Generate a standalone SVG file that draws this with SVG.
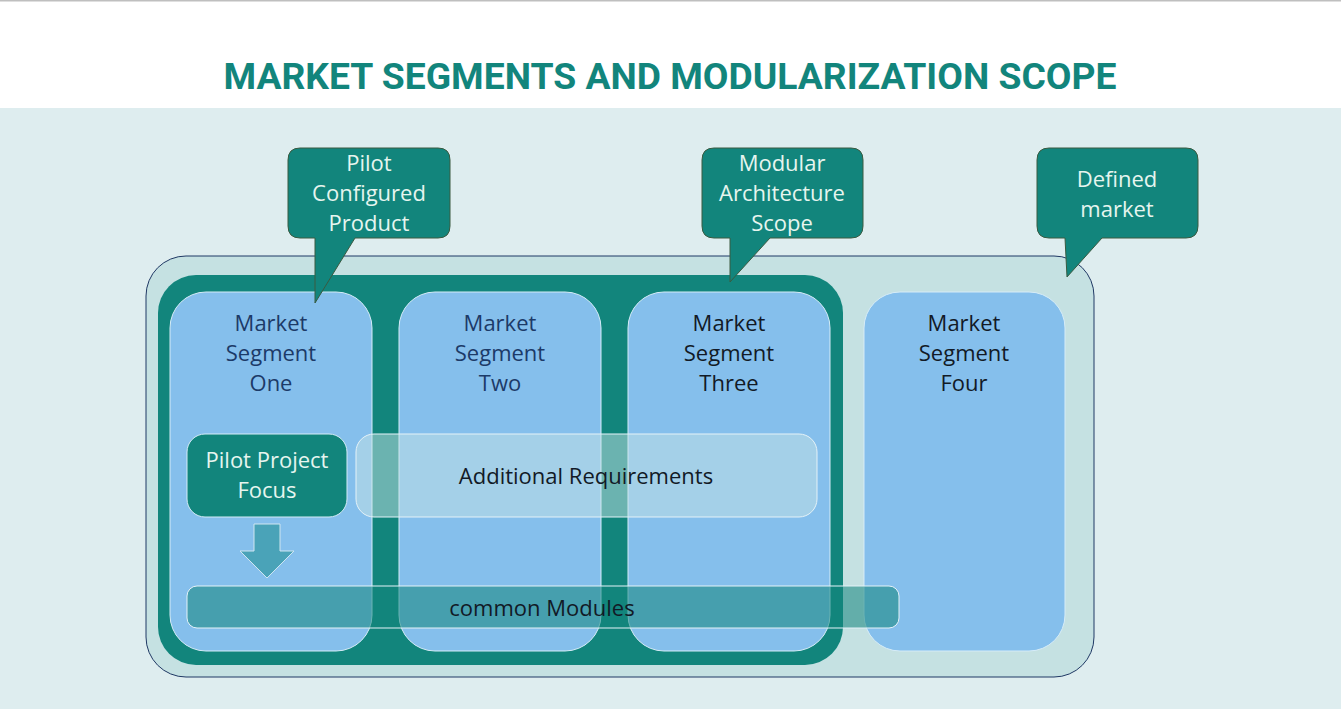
<svg xmlns="http://www.w3.org/2000/svg" width="1341" height="709" viewBox="0 0 1341 709">
<defs>
<style>
.title{font-family:Roboto,"Liberation Sans",sans-serif;font-weight:700;font-size:36px;fill:#12857c}
.t{font-family:"Open Sans","Noto Sans",sans-serif;font-size:22px;text-anchor:middle}
.seg{fill:#85bfec;stroke:#d6ecf8;stroke-width:1}
.call{fill:#12857c;stroke:#3a5a40;stroke-width:1}
.light{fill:#e6f5ef}
.blue{fill:#1c3a68}
.dark{fill:#121a26}
</style>
</defs>
<rect x="0" y="0" width="1341" height="709" fill="#ffffff"/>
<rect x="0" y="0" width="1341" height="1.5" fill="#bfbfbf"/>
<rect x="0" y="108" width="1341" height="601" fill="#deedef"/>
<text class="title" x="670" y="89" text-anchor="middle" textLength="893" lengthAdjust="spacingAndGlyphs">MARKET SEGMENTS AND MODULARIZATION SCOPE</text>

<g id="defined-market-area">
<rect x="146" y="256" width="948" height="421" rx="40" fill="#c5e1e2" stroke="#1f3864" stroke-width="1"/>
</g>
<g id="modular-scope-area">
<rect x="158" y="275" width="685" height="390" rx="38" fill="#12857c"/>
</g>

<g id="segment-one">
<rect class="seg" x="170" y="292" width="202" height="359" rx="36"/>
<text class="t blue" x="271" y="331">Market</text>
<text class="t blue" x="271" y="361">Segment</text>
<text class="t blue" x="271" y="391">One</text>
</g>
<g id="segment-two">
<rect class="seg" x="399" y="292" width="202" height="359" rx="36"/>
<text class="t blue" x="500" y="331">Market</text>
<text class="t blue" x="500" y="361">Segment</text>
<text class="t blue" x="500" y="391">Two</text>
</g>
<g id="segment-three">
<rect class="seg" x="628" y="292" width="202" height="359" rx="36"/>
<text class="t dark" x="729" y="331">Market</text>
<text class="t dark" x="729" y="361">Segment</text>
<text class="t dark" x="729" y="391">Three</text>
</g>
<g id="segment-four">
<rect class="seg" x="864" y="292" width="201" height="359" rx="36"/>
<text class="t dark" x="964" y="331">Market</text>
<text class="t dark" x="964" y="361">Segment</text>
<text class="t dark" x="964" y="391">Four</text>
</g>

<g id="pilot-project-focus">
<rect x="187" y="434" width="160" height="83" rx="18" fill="#12857c" stroke="#d6ecf8" stroke-width="1"/>
<text class="t light" x="267" y="468">Pilot Project</text>
<text class="t light" x="267" y="498">Focus</text>
</g>
<g id="additional-requirements">
<rect x="356" y="434" width="461" height="83" rx="18" fill="#c3e1e4" fill-opacity="0.5" stroke="#e4f2f8" stroke-width="1"/>
<text class="t dark" x="586" y="484">Additional Requirements</text>
</g>

<g id="connectors">
<path d="M254,524 H280 V551 H294 L267,578 L240,551 H254 Z" fill="#4aa3b8" stroke="#cfe6f0" stroke-width="1"/>
</g>

<g id="common-modules">
<rect x="187" y="586" width="712" height="42" rx="10" fill="#12857c" fill-opacity="0.55" stroke="#e4f2f8" stroke-width="1"/>
<text class="t dark" x="542" y="616">common Modules</text>
</g>

<g id="callout-pilot">
<path class="call" d="M300,148 H438 Q450,148 450,160 V226 Q450,238 438,238 H355 L315,303 V238 H300 Q288,238 288,226 V160 Q288,148 300,148 Z"/>
<text class="t light" x="369" y="171">Pilot</text>
<text class="t light" x="369" y="201">Configured</text>
<text class="t light" x="369" y="231">Product</text>
</g>
<g id="callout-modular">
<path class="call" d="M714,148 H851 Q863,148 863,160 V226 Q863,238 851,238 H770 L730,282 V238 H714 Q702,238 702,226 V160 Q702,148 714,148 Z"/>
<text class="t light" x="782" y="171">Modular</text>
<text class="t light" x="782" y="201">Architecture</text>
<text class="t light" x="782" y="231">Scope</text>
</g>
<g id="callout-defined">
<path class="call" d="M1049,148 H1186 Q1198,148 1198,160 V226 Q1198,238 1186,238 H1102 L1067,277 L1065,238 H1049 Q1037,238 1037,226 V160 Q1037,148 1049,148 Z"/>
<text class="t light" x="1117" y="187">Defined</text>
<text class="t light" x="1117" y="217">market</text>
</g>
</svg>
